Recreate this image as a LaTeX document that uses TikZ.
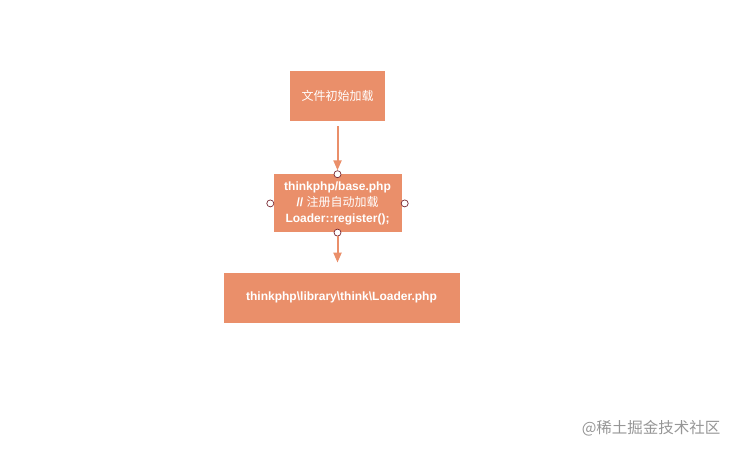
\documentclass[tikz,border=0pt]{standalone}
\usepackage{fontspec}
\setmainfont{Liberation Sans}
\newfontfamily\cjk{Noto Sans CJK SC}
\usepackage{tikz}
\usetikzlibrary{arrows.meta,positioning}
\usepackage{xcolor}
\definecolor{flowfill}{RGB}{234,143,106}
\definecolor{dotred}{RGB}{120,40,50}
\definecolor{markgrey}{RGB}{150,150,150}
\tikzstyle{arrow} = [line width=2pt,color=flowfill,-{Triangle[length=10pt,width=8pt]}]
\tikzstyle{stepbox} = [rectangle, fill=flowfill, text=white, align=center, inner sep=0pt, font=\fontsize{12}{16}\selectfont\bfseries]
\tikzstyle{dot} = [circle, inner sep=0pt, minimum size=7pt, draw=dotred, fill=white, line width=0.7pt]

\begin{document}
\begin{tikzpicture}[x=1pt,y=-1pt]
\useasboundingbox (0,0) rectangle (735,450);
% File loading chain
\node (start) [stepbox, minimum width=95pt, minimum height=50pt] at (337.5,96) {{\cjk\mdseries 文件初始加载}};
\node (base) [stepbox, minimum width=128pt, minimum height=58pt, below=53pt of start] {thinkphp/base.php\\// {\cjk\mdseries 注册自动加载}\\Loader::register();};
\node (loader) [stepbox, minimum width=236pt, minimum height=50pt, below=40pt of base, xshift=4pt] {thinkphp\textbackslash library\textbackslash think\textbackslash Loader.php};

% Connection dots
\node (dtop) [dot] at (base.north) {};
\node (dbottom) [dot] at (base.south) {};
\node (dleft) [dot, xshift=-3pt] at (base.west) {};
\node (dright) [dot, xshift=3pt] at (base.east) {};

% Arrows
\draw[arrow, shorten <=5pt] (start.south) -- (dtop.north);
\draw[arrow, shorten >=10pt] (dbottom.south) -- (dbottom.south |- loader.north);

% Watermark
\node (mark) [text=markgrey, font=\cjk\fontsize{15.5}{18}\selectfont, anchor=east] at (724,428) {@稀土掘金技术社区};
\end{tikzpicture}
\end{document}
